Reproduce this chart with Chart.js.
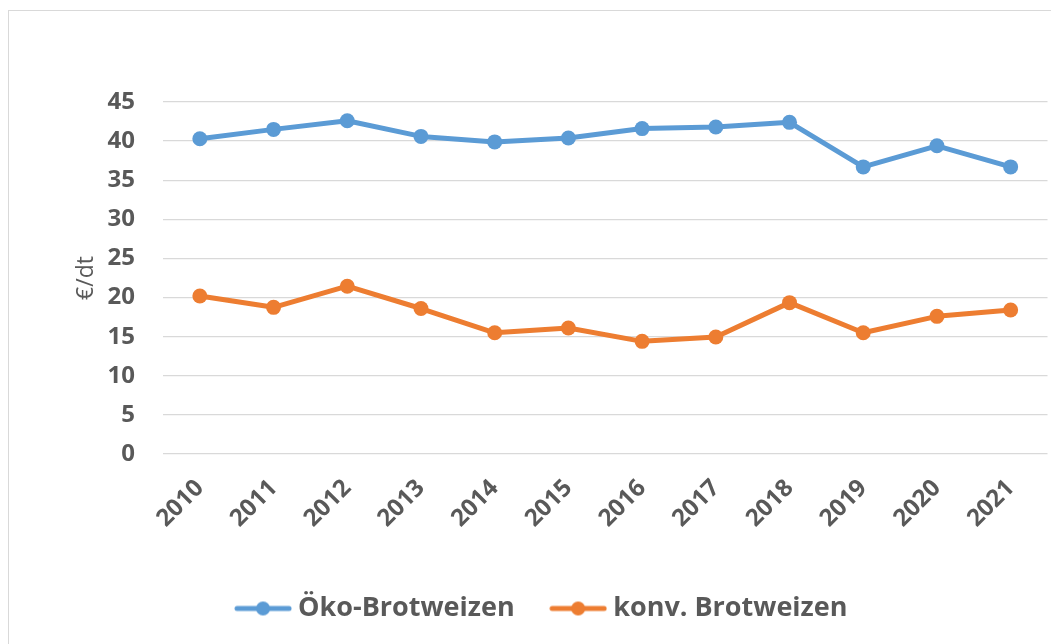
<!DOCTYPE html>
<html>
<head>
<meta charset="utf-8">
<script src="https://cdn.jsdelivr.net/npm/chart.js@4"></script>
<style>
  html, body { margin: 0; padding: 0; background: #fff; overflow: hidden; }
  #frame { position: absolute; left: 8px; top: 10px; width: 1100px; height: 700px; border: 1px solid #d9d9d9; }
  #wrap { position: absolute; left: 0; top: 0; width: 1055px; height: 644px; }
</style>
</head>
<body>
<div id="frame"></div>
<div id="wrap"><canvas id="chart"></canvas></div>
<script>
// Erzeugerpreise Brotweizen in €/dt
const jahre = ['2010', '2011', '2012', '2013', '2014', '2015', '2016', '2017', '2018', '2019', '2020', '2021'];
const oekoBrotweizen = [40.3, 41.5, 42.6, 40.6, 39.9, 40.4, 41.6, 41.8, 42.4, 36.7, 39.4, 36.7];
const konvBrotweizen = [20.2, 18.75, 21.45, 18.6, 15.5, 16.1, 14.4, 14.95, 19.35, 15.5, 17.6, 18.4];
const yMin = 0;
const yMax = 45;
const yStep = 5;

const blau = '#5b9bd5';
const orange = '#ed7d31';
const grau = '#595959';

// Legendensymbol: Linie mit Punkt in der Mitte (wie in Excel)
function legendIcon(color) {
  const c = document.createElement('canvas');
  c.width = 58;
  c.height = 16;
  const g = c.getContext('2d');
  g.strokeStyle = color;
  g.lineWidth = 5;
  g.lineCap = 'round';
  g.beginPath();
  g.moveTo(3, 8);
  g.lineTo(55, 8);
  g.stroke();
  g.fillStyle = color;
  g.beginPath();
  g.arc(29, 8, 7, 0, 2 * Math.PI);
  g.fill();
  return c;
}

const ctx = document.getElementById('chart').getContext('2d');

const chart = new Chart(ctx, {
  type: 'line',
  data: {
    labels: jahre,
    datasets: [
      {
        label: 'Öko-Brotweizen',
        data: oekoBrotweizen,
        borderColor: blau,
        backgroundColor: blau,
        borderWidth: 5,
        borderCapStyle: 'round',
        borderJoinStyle: 'round',
        pointRadius: 7.5,
        pointHoverRadius: 7.5,
        pointBorderWidth: 0,
        tension: 0
      },
      {
        label: 'konv. Brotweizen',
        data: konvBrotweizen,
        borderColor: orange,
        backgroundColor: orange,
        borderWidth: 5,
        borderCapStyle: 'round',
        borderJoinStyle: 'round',
        pointRadius: 7.5,
        pointHoverRadius: 7.5,
        pointBorderWidth: 0,
        tension: 0
      }
    ]
  },
  options: {
    responsive: true,
    maintainAspectRatio: false,
    animation: false,
    layout: {
      padding: { left: 34, right: 0, top: 102, bottom: 12 }
    },
    plugins: {
      tooltip: { enabled: false },
      legend: {
        position: 'bottom',
        labels: {
          usePointStyle: true,
          pointStyleWidth: 43,
          padding: 42,
          color: grau,
          font: { family: '"Open Sans", sans-serif', size: 27, weight: 'bold' },
          generateLabels: (c) => {
            const items = Chart.defaults.plugins.legend.labels.generateLabels(c);
            return items.map((it, i) => {
              it.pointStyle = legendIcon(i === 0 ? blau : orange);
              return it;
            });
          }
        }
      }
    },
    scales: {
      x: {
        offset: true,
        grid: { display: false },
        border: { display: false },
        ticks: {
          color: grau,
          font: { family: '"Open Sans", sans-serif', size: 24, weight: 'bold' },
          maxRotation: 45,
          minRotation: 45,
          padding: 12
        },
        afterFit: (s) => {
          s.height = 99;
          s.paddingRight = 0;
          s.paddingLeft = 0;
        }
      },
      y: {
        min: yMin,
        max: yMax,
        border: { display: false },
        grid: { color: '#d9d9d9', lineWidth: 1.3, drawTicks: false },
        ticks: {
          stepSize: yStep,
          color: grau,
          padding: 28,
          font: { family: '"Open Sans", sans-serif', size: 24, weight: 'bold' }
        },
        title: {
          display: true,
          text: '€/dt',
          color: grau,
          padding: { top: 39, bottom: 0 },
          font: { family: '"Open Sans", sans-serif', size: 23, weight: 'normal' }
        },
        afterFit: (s) => { s.width = 129; }
      }
    }
  }
});
</script>
</body>
</html>
